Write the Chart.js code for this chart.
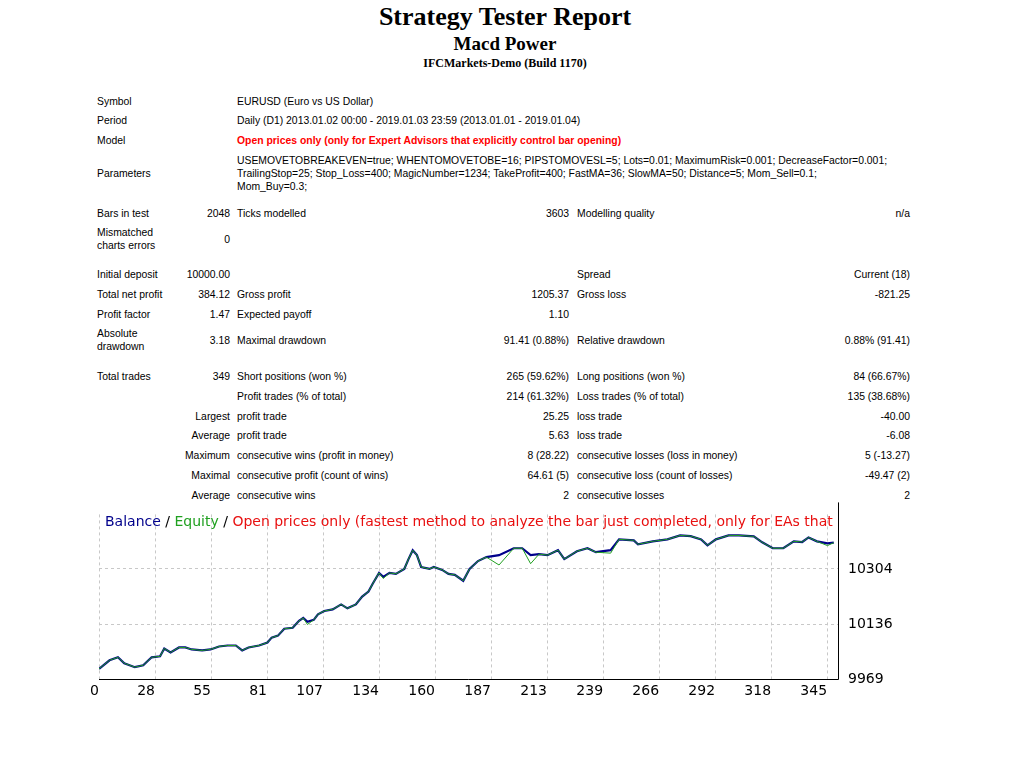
<!DOCTYPE html>
<html>
<head>
<meta charset="utf-8">
<script src="https://cdn.jsdelivr.net/npm/chart.js@4/dist/chart.umd.min.js"></script>
<style>
  body { margin: 0; background: #fff; width: 1024px; height: 768px; position: relative; overflow: hidden; }
  .t { position: absolute; left: 0; width: 1010px; text-align: center; font-family: "Liberation Serif", serif; font-weight: bold; color: #000; }
  .c { position: absolute; font-family: "Liberation Sans", sans-serif; font-size: 10.4px; color: #000; white-space: nowrap; line-height: 13px; transform: translateY(-50%); }
  .r { text-align: right; }
  #legend { position: absolute; left: 105px; top: 513px; width: 740px; white-space: nowrap; font-family: "DejaVu Sans", sans-serif; font-size: 14px; }
  #wrap { position: absolute; left: 79px; top: 496px; width: 840px; height: 216px; }
</style>
</head>
<body>
<div class="t" style="top:2px;font-size:26px">Strategy Tester Report</div>
<div class="t" style="top:33px;font-size:19px">Macd Power</div>
<div class="t" style="top:56px;font-size:12px">IFCMarkets-Demo (Build 1170)</div>
<div id="rows"></div>
<div id="wrap"><canvas id="chart" width="840" height="216"></canvas></div>
<div id="legend"><span style="color:#00008b">Balance</span> / <span style="color:#20a020">Equity</span> / <span style="color:#e81010">Open prices only (fastest method to analyze the bar just completed, only for EAs that</span></div>
<script>
// report rows: [y, [x, text, alignRight?, style?], ...]
const reportRows = [
  [101, [97, 'Symbol'], [237, 'EURUSD (Euro vs US Dollar)']],
  [120, [97, 'Period'], [237, 'Daily (D1) 2013.01.02 00:00 - 2019.01.03 23:59 (2013.01.01 - 2019.01.04)']],
  [140, [97, 'Model'], [237, 'Open prices only (only for Expert Advisors that explicitly control bar opening)', false, 'color:#f00;font-weight:bold']],
  [173, [97, 'Parameters'], [237, 'USEMOVETOBREAKEVEN=true; WHENTOMOVETOBE=16; PIPSTOMOVESL=5; Lots=0.01; MaximumRisk=0.001; DecreaseFactor=0.001;<br>TrailingStop=25; Stop_Loss=400; MagicNumber=1234; TakeProfit=400; FastMA=36; SlowMA=50; Distance=5; Mom_Sell=0.1;<br>Mom_Buy=0.3;']],
  [213, [97, 'Bars in test'], [230, '2048', true], [237, 'Ticks modelled'], [569, '3603', true], [577, 'Modelling quality'], [910, 'n/a', true]],
  [239, [97, 'Mismatched<br>charts errors'], [230, '0', true]],
  [274, [97, 'Initial deposit'], [230, '10000.00', true], [577, 'Spread'], [910, 'Current (18)', true]],
  [294, [97, 'Total net profit'], [230, '384.12', true], [237, 'Gross profit'], [569, '1205.37', true], [577, 'Gross loss'], [910, '-821.25', true]],
  [314, [97, 'Profit factor'], [230, '1.47', true], [237, 'Expected payoff'], [569, '1.10', true]],
  [340, [97, 'Absolute<br>drawdown'], [230, '3.18', true], [237, 'Maximal drawdown'], [569, '91.41 (0.88%)', true], [577, 'Relative drawdown'], [910, '0.88% (91.41)', true]],
  [376, [97, 'Total trades'], [230, '349', true], [237, 'Short positions (won %)'], [569, '265 (59.62%)', true], [577, 'Long positions (won %)'], [910, '84 (66.67%)', true]],
  [396, [237, 'Profit trades (% of total)'], [569, '214 (61.32%)', true], [577, 'Loss trades (% of total)'], [910, '135 (38.68%)', true]],
  [416, [230, 'Largest', true], [237, 'profit trade'], [569, '25.25', true], [577, 'loss trade'], [910, '-40.00', true]],
  [435, [230, 'Average', true], [237, 'profit trade'], [569, '5.63', true], [577, 'loss trade'], [910, '-6.08', true]],
  [455, [230, 'Maximum', true], [237, 'consecutive wins (profit in money)'], [569, '8 (28.22)', true], [577, 'consecutive losses (loss in money)'], [910, '5 (-13.27)', true]],
  [475, [230, 'Maximal', true], [237, 'consecutive profit (count of wins)'], [569, '64.61 (5)', true], [577, 'consecutive loss (count of losses)'], [910, '-49.47 (2)', true]],
  [495, [230, 'Average', true], [237, 'consecutive wins'], [569, '2', true], [577, 'consecutive losses'], [910, '2', true]]
];
const rowsEl = document.getElementById('rows');
reportRows.forEach(([y, ...cells]) => {
  cells.forEach(([x, text, right, style]) => {
    const d = document.createElement('div');
    d.className = 'c' + (right ? ' r' : '');
    d.style.top = y + 'px';
    if (right) { d.style.right = (1024 - x) + 'px'; } else { d.style.left = x + 'px'; }
    if (style) d.style.cssText += style;
    d.innerHTML = text;
    rowsEl.appendChild(d);
  });
});

// chart data
const tradeNo = [0, 5, 9, 12, 17, 21, 25, 29, 31, 34, 38, 41, 44, 49, 53, 57, 61, 65, 68, 71, 76, 80, 82, 85, 88, 92, 95, 97, 99, 102, 104, 107, 111, 115, 118, 122, 125, 128, 130, 133, 135, 138, 141, 145, 147, 149, 151, 153, 157, 159, 163, 166, 169, 173, 176, 180, 184, 190, 197, 201, 205, 209, 213, 218, 221, 227, 232, 236, 243, 247, 254, 256, 263, 270, 276, 281, 286, 289, 293, 299, 304, 311, 315, 320, 325, 330, 334, 337, 341, 346, 349];
const balance = [10000, 10026, 10035, 10017, 10005, 10011, 10035, 10038, 10062, 10050, 10065, 10065, 10059, 10056, 10059, 10068, 10071, 10071, 10056, 10065, 10071, 10080, 10095, 10101, 10122, 10125, 10146, 10155, 10143, 10149, 10166, 10176, 10181, 10196, 10184, 10196, 10220, 10235, 10259, 10292, 10280, 10292, 10289, 10304, 10334, 10361, 10346, 10310, 10304, 10310, 10301, 10289, 10286, 10268, 10304, 10328, 10340, 10346, 10367, 10367, 10346, 10349, 10346, 10361, 10334, 10358, 10367, 10355, 10361, 10394, 10391, 10379, 10388, 10394, 10406, 10404, 10394, 10376, 10394, 10406, 10406, 10403, 10385, 10367, 10367, 10388, 10386, 10400, 10388, 10382, 10384];
const equity = [10000, 10026, 10035, 10017, 10005, 10011, 10035, 10038, 10062, 10050, 10065, 10065, 10059, 10056, 10059, 10068, 10071, 10071, 10056, 10065, 10071, 10080, 10095, 10101, 10122, 10125, 10146, 10155, 10135, 10149, 10166, 10176, 10181, 10196, 10184, 10196, 10220, 10235, 10259, 10292, 10275, 10292, 10289, 10304, 10334, 10361, 10346, 10310, 10304, 10310, 10301, 10289, 10286, 10268, 10304, 10328, 10340, 10316, 10367, 10367, 10320, 10349, 10346, 10361, 10334, 10358, 10367, 10355, 10352, 10394, 10391, 10379, 10388, 10394, 10406, 10404, 10394, 10376, 10394, 10406, 10406, 10403, 10385, 10367, 10367, 10388, 10386, 10400, 10388, 10375, 10384];
const xTickLabels = ['0', '28', '55', '81', '107', '134', '160', '187', '213', '239', '266', '292', '318', '345'];
const yTicks = [9969, 10136, 10304];
const xStep = 26.6;

new Chart(document.getElementById('chart'), {
  type: 'line',
  data: {
    datasets: [
      { label: 'Equity', data: tradeNo.map((t, i) => ({ x: t, y: equity[i] })), borderColor: '#20a020', borderWidth: 1, pointRadius: 0, tension: 0 },
      { label: 'Balance', data: tradeNo.map((t, i) => ({ x: t, y: balance[i] })), borderColor: '#00008b', borderWidth: 2.2, pointRadius: 0, tension: 0 }
    ]
  },
  options: {
    animation: false,
    responsive: false,
    devicePixelRatio: 1,
    layout: { padding: { left: 20, top: 0, right: 0, bottom: 0 } },
    plugins: { legend: { display: false }, tooltip: { enabled: false } },
    scales: {
      x: {
        type: 'linear', min: 0, max: 351,
        afterBuildTicks: s => { s.ticks = xTickLabels.map((l, i) => ({ value: i * xStep })); },
        afterFit: s => { s.height = 33; },
        ticks: { callback: (v, i) => xTickLabels[i], align: 'end', maxRotation: 0, autoSkip: false, padding: 4, color: '#000', font: { family: 'DejaVu Sans', size: 14 } },
        grid: { color: '#c8c8c8', drawTicks: false },
        border: { display: false, dash: [3, 3] }
      },
      y: {
        position: 'right', min: 9969, max: 10470,
        afterBuildTicks: s => { s.ticks = yTicks.map(v => ({ value: v })); },
        afterFit: s => { s.width = 81; },
        ticks: { callback: v => String(v), padding: 10, color: '#000', font: { family: 'DejaVu Sans', size: 14 } },
        grid: { color: '#c8c8c8', drawTicks: false },
        border: { display: false, dash: [3, 3] }
      }
    }
  },
  plugins: [{
    id: 'axisLines',
    afterDraw: c => {
      const a = c.chartArea, g = c.ctx;
      g.save();
      g.strokeStyle = '#000';
      g.lineWidth = 1;
      g.beginPath();
      g.moveTo(a.left, a.bottom + 0.5);
      g.lineTo(a.right + 0.5, a.bottom + 0.5);
      g.lineTo(a.right + 0.5, a.top - 12);
      g.stroke();
      g.restore();
    }
  }]
});
</script>
</body>
</html>
